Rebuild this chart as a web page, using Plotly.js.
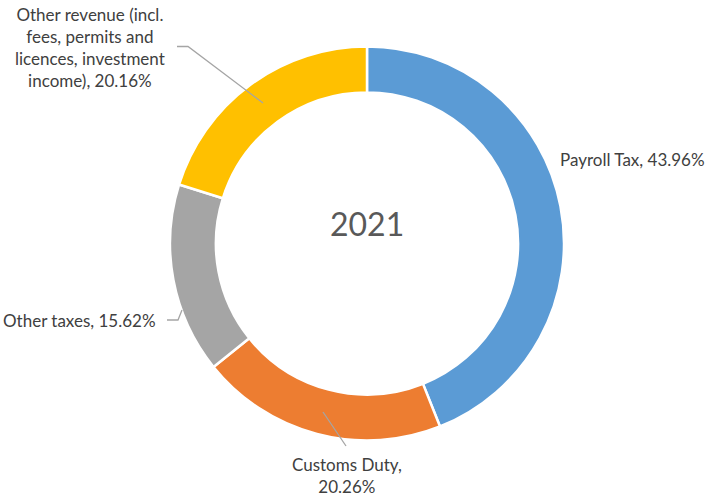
<!DOCTYPE html>
<html>
<head>
<meta charset="utf-8">
<script src="https://cdn.plot.ly/plotly-3.0.1.min.js"></script>
<style>html,body{margin:0;padding:0;background:#fff;}#chart{width:707px;height:496px;}</style>
</head>
<body>
<div id="chart"></div>
<script>
// ---- data ----
const year = "2021";
const categories = ["Payroll Tax", "Customs Duty", "Other taxes", "Other revenue (incl. fees, permits and licences, investment income)"];
const shares = [43.96, 20.26, 15.62, 20.16];
const labelText = ["Payroll Tax", "Customs Duty,", "Other taxes", "Other revenue (incl.<br>fees, permits and<br>licences, investment<br>income)"];
const colors = ["#5B9BD5", "#ED7D31", "#A5A5A5", "#FFC000"];

// ---- layout helpers (pixel -> paper) ----
const W = 707, H = 496;
const X = px => px / W;
const Y = py => 1 - py / H;

function lbl(i) {
  const sep = (i === 1) ? "<br>" : ", ";
  return labelText[i] + sep + shares[i].toFixed(2) + "%";
}

const font = "Lato, 'Open Sans', sans-serif";
const txtColor = "#404040";

const trace = {
  type: "pie",
  labels: categories,
  values: shares,
  hole: 0.767,
  sort: false,
  direction: "clockwise",
  rotation: 0,
  textinfo: "none",
  hoverinfo: "label+percent",
  marker: {colors: colors, line: {color: "#ffffff", width: 2.5}},
  domain: {x: [X(170), X(564)], y: [Y(440.5), Y(46.5)]},
  showlegend: false
};

const annos = [
  {x: X(367), y: Y(223), text: year, font: {size: 32, color: "#595959", family: font}},
  {x: X(558), y: Y(160), xanchor: "left", text: lbl(0)},
  {x: X(347), y: Y(475), text: lbl(1)},
  {x: X(158), y: Y(320), xanchor: "right", text: lbl(2)},
  {x: X(90), y: Y(47.5), text: lbl(3)}
].map(a => Object.assign({xref: "paper", yref: "paper", showarrow: false, xanchor: "center", yanchor: "middle", font: {size: 17, color: txtColor, family: font}}, a));

const lineStyle = {color: "#A5A5A5", width: 1.3};
const path = pts => "M " + pts.map(p => X(p[0]) + "," + Y(p[1])).join(" L ");
const shapes = [
  {type: "path", xref: "paper", yref: "paper", path: path([[177,46.5],[188,46.5],[263,103]]), line: lineStyle},
  {type: "path", xref: "paper", yref: "paper", path: path([[167,320],[178,320],[182,310]]), line: lineStyle},
  {type: "path", xref: "paper", yref: "paper", path: path([[323,412],[346,446]]), line: lineStyle}
];

const layout = {
  width: W, height: H,
  margin: {l: 0, r: 0, t: 0, b: 0},
  paper_bgcolor: "#ffffff",
  plot_bgcolor: "#ffffff",
  font: {family: font, color: txtColor},
  annotations: annos,
  shapes: shapes
};

Plotly.newPlot("chart", [trace], layout, {displayModeBar: false, staticPlot: true});
</script>
</body>
</html>
